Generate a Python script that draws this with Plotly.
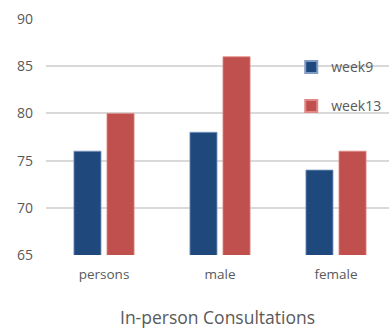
import plotly.graph_objects as go

categories = ["persons", "male", "female"]
week9 = [76, 78, 74]
week13 = [80, 86, 76]
y_ticks = [65, 70, 75, 80, 85, 90]

BLUE = "#1F497D"
RED = "#C0504D"
GREY_TEXT = "#595959"
FONT = "Open Sans"

fig = go.Figure()
fig.add_trace(go.Bar(
    x=categories, y=week9, name="week9", legend="legend", showlegend=True,
    marker=dict(color=BLUE, line=dict(color="#7F9CC4", width=0.8)),
))
fig.add_trace(go.Bar(
    x=categories, y=week13, name="week13", legend="legend2", showlegend=True,
    marker=dict(color=RED, line=dict(color="#E08A87", width=0.8)),
))

legend_common = dict(
    bgcolor="rgba(0,0,0,0)",
    font=dict(family=FONT, size=14, color=GREY_TEXT),
    xanchor="left", yanchor="middle", itemsizing="constant",
    visible=True,
)

fig.update_layout(
    width=389, height=329,
    margin=dict(l=46, r=0, t=19, b=74),
    paper_bgcolor="white", plot_bgcolor="white",
    showlegend=True,
    barmode="group", bargap=0.43, bargroupgap=0.18,
    font=dict(family=FONT, color=GREY_TEXT),
    legend=dict(x=0.715, y=0.795, **legend_common),
    legend2=dict(x=0.715, y=0.63, **legend_common),
    xaxis=dict(
        range=[-0.5, 2.457], showgrid=False, showline=False, zeroline=False,
        tickfont=dict(family=FONT, size=13.5, color=GREY_TEXT),
        ticks="", ticklabelstandoff=9,
    ),
    yaxis=dict(
        range=[65, 90], tickvals=y_ticks, showgrid=True,
        gridcolor="#D9D9D9", gridwidth=1.5, zeroline=False, showline=False,
        tickfont=dict(family=FONT, size=14, color=GREY_TEXT),
        ticks="", ticklabelstandoff=12,
    ),
    annotations=[dict(
        text="In-person Consultations", xref="paper", yref="paper",
        x=0.5, y=-0.262, xanchor="center", yanchor="middle",
        showarrow=False, font=dict(family=FONT, size=17.5, color=GREY_TEXT),
    )],
)

fig.write_html("out.html")
